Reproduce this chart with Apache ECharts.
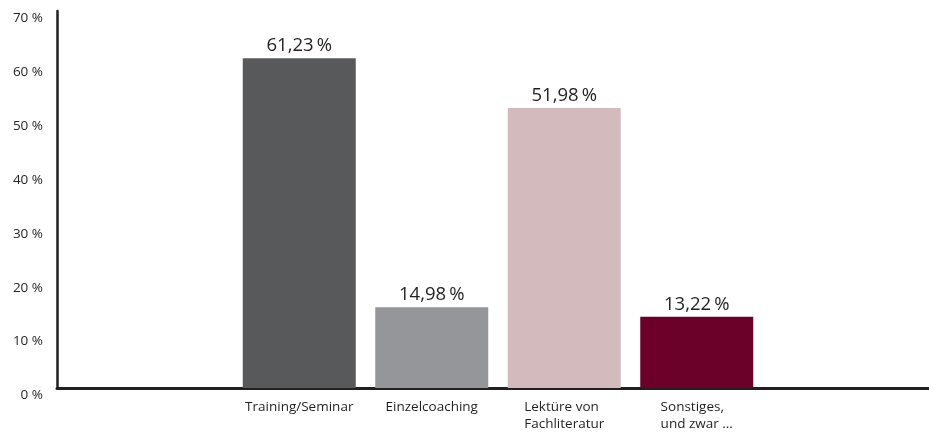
<!DOCTYPE html>
<html>
<head>
<meta charset="utf-8">
<script src="https://cdn.jsdelivr.net/npm/echarts@6/dist/echarts.min.js"></script>
<style>
    html, body { margin: 0; padding: 0; background: #fff; }
    #chart { width: 929px; height: 432px; }
</style>
</head>
<body>
<div id="chart"></div>
<script>
const categories = ["Training/Seminar", "Einzelcoaching", "Lektüre von\nFachliteratur", "Sonstiges,\nund zwar ..."];
const values = [61.23, 14.98, 51.98, 13.22];
const bar_colors = ["#58595b", "#959699", "#d3babd", "#6b0028"];
const y_ticks = [0, 10, 20, 30, 40, 50, 60, 70];

const font = "'Open Sans', 'Noto Sans', sans-serif";
const pct = (v) => String(v) + " %";
const fmt_value = (v) => v.toFixed(2).replace(".", ",") + "\u2009%";

const chart = echarts.init(document.getElementById("chart"));

chart.setOption({
    animation: false,
    textStyle: { fontFamily: font },
    grid: [
        { left: 57, right: 0, top: 11, bottom: 44 },
        { left: 233, width: 530, top: 11, bottom: 44 },
    ],
    xAxis: [
        {
            gridIndex: 0,
            type: "category",
            data: [""],
            axisLine: { show: true, lineStyle: { color: "#231f20", width: 3 } },
            axisTick: { show: false },
            axisLabel: { show: false },
        },
        {
            gridIndex: 1,
            type: "category",
            data: categories,
            axisLine: { show: false },
            axisTick: { show: false },
            axisLabel: {
                margin: 11,
                interval: 0,
                formatter: (v) => v.split("\n").map((s) => "{l|" + s + "}").join("\n"),
                rich: {
                    l: { align: "left", fontSize: 13.5, lineHeight: 17, color: "#231f20", fontFamily: font },
                },
            },
        },
    ],
    yAxis: [
        {
            gridIndex: 0,
            type: "value",
            min: y_ticks[0],
            max: y_ticks[y_ticks.length - 1],
            interval: 10,
            splitLine: { show: false },
            axisTick: { show: false },
            axisLine: { show: true, lineStyle: { color: "#231f20", width: 2.5 } },
            axisLabel: {
                margin: 14,
                fontSize: 13.5,
                lineHeight: 15,
                verticalAlign: "top",
                color: "#231f20",
                formatter: (v) => pct(v),
            },
        },
        {
            gridIndex: 1,
            type: "value",
            min: y_ticks[0],
            max: y_ticks[y_ticks.length - 1],
            interval: 10,
            show: false,
        },
    ],
    series: [
        {
            type: "bar",
            xAxisIndex: 1,
            yAxisIndex: 1,
            barWidth: 113,
            data: values.map((v, i) => ({ value: v, itemStyle: { color: bar_colors[i] } })),
            label: {
                show: true,
                position: "top",
                distance: 3,
                fontSize: 18.5,
                color: "#231f20",
                formatter: (p) => fmt_value(p.value),
            },
        },
    ],
});
</script>
</body>
</html>
